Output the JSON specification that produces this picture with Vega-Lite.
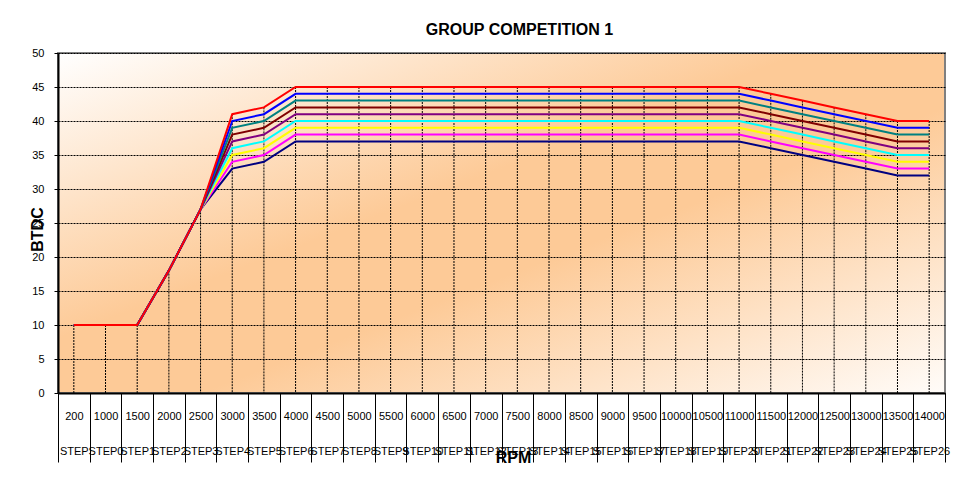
{
  "$schema": "https://vega.github.io/schema/vega-lite/v6.json",
  "autosize": {"type": "none"},
  "padding": {"left": 58, "top": 53, "right": 16, "bottom": 97},
  "width": 887,
  "height": 340,
  "background": "#ffffff",
  "config": {
    "font": "Liberation Sans",
    "view": {
      "stroke": "#808080",
      "strokeWidth": 2,
      "fill": {"gradient": "linear", "x1": 0, "y1": 0, "x2": 1, "y2": 1,
        "stops": [
          {"offset": 0, "color": "#ffffff"},
          {"offset": 0.42, "color": "#fdca97"},
          {"offset": 0.58, "color": "#fdca97"},
          {"offset": 1, "color": "#fffcf9"}
        ]}
    },
    "axisY": {
      "title": "BTDC",
      "titleFont": "Liberation Sans",
      "titleFontSize": 16,
      "titleFontWeight": "bold",
      "titleColor": "#000000",
      "titleX": -21,
      "titleY": 176,
      "titleAlign": "center",
      "titleBaseline": "middle",
      "labelFontSize": 11,
      "labelColor": "#000000",
      "labelPadding": 10,
      "labelOverlap": false,
      "tickSize": 4,
      "tickColor": "#000000",
      "domainColor": "#000000",
      "domainWidth": 2,
      "grid": true,
      "gridColor": "#000000",
      "gridDash": [2, 1],
      "gridWidth": 1
    }
  },
  "title": {
    "text": "GROUP COMPETITION 1",
    "font": "Liberation Sans",
    "fontSize": 16,
    "fontWeight": "bold",
    "color": "#000000",
    "anchor": "middle",
    "frame": "group",
    "baseline": "bottom",
    "dx": 18,
    "offset": -7
  },
  "data": {
    "values": [
      {"rpm": "200", "s1": 10, "s2": 10, "s3": 10, "s4": 10, "s5": 10, "s6": 10, "s7": 10, "s8": 10, "s9": 10},
      {"rpm": "1000", "s1": 10, "s2": 10, "s3": 10, "s4": 10, "s5": 10, "s6": 10, "s7": 10, "s8": 10, "s9": 10},
      {"rpm": "1500", "s1": 10, "s2": 10, "s3": 10, "s4": 10, "s5": 10, "s6": 10, "s7": 10, "s8": 10, "s9": 10},
      {"rpm": "2000", "s1": 18, "s2": 18, "s3": 18, "s4": 18, "s5": 18, "s6": 18, "s7": 18, "s8": 18, "s9": 18},
      {"rpm": "2500", "s1": 27, "s2": 27, "s3": 27, "s4": 27, "s5": 27, "s6": 27, "s7": 27, "s8": 27, "s9": 27},
      {"rpm": "3000", "s1": 41, "s2": 40, "s3": 39, "s4": 38, "s5": 37, "s6": 36, "s7": 35, "s8": 34, "s9": 33},
      {"rpm": "3500", "s1": 42, "s2": 41, "s3": 40, "s4": 39, "s5": 38, "s6": 37, "s7": 36, "s8": 35, "s9": 34},
      {"rpm": "4000", "s1": 45, "s2": 44, "s3": 43, "s4": 42, "s5": 41, "s6": 40, "s7": 39, "s8": 38, "s9": 37},
      {"rpm": "4500", "s1": 45, "s2": 44, "s3": 43, "s4": 42, "s5": 41, "s6": 40, "s7": 39, "s8": 38, "s9": 37},
      {"rpm": "5000", "s1": 45, "s2": 44, "s3": 43, "s4": 42, "s5": 41, "s6": 40, "s7": 39, "s8": 38, "s9": 37},
      {"rpm": "5500", "s1": 45, "s2": 44, "s3": 43, "s4": 42, "s5": 41, "s6": 40, "s7": 39, "s8": 38, "s9": 37},
      {"rpm": "6000", "s1": 45, "s2": 44, "s3": 43, "s4": 42, "s5": 41, "s6": 40, "s7": 39, "s8": 38, "s9": 37},
      {"rpm": "6500", "s1": 45, "s2": 44, "s3": 43, "s4": 42, "s5": 41, "s6": 40, "s7": 39, "s8": 38, "s9": 37},
      {"rpm": "7000", "s1": 45, "s2": 44, "s3": 43, "s4": 42, "s5": 41, "s6": 40, "s7": 39, "s8": 38, "s9": 37},
      {"rpm": "7500", "s1": 45, "s2": 44, "s3": 43, "s4": 42, "s5": 41, "s6": 40, "s7": 39, "s8": 38, "s9": 37},
      {"rpm": "8000", "s1": 45, "s2": 44, "s3": 43, "s4": 42, "s5": 41, "s6": 40, "s7": 39, "s8": 38, "s9": 37},
      {"rpm": "8500", "s1": 45, "s2": 44, "s3": 43, "s4": 42, "s5": 41, "s6": 40, "s7": 39, "s8": 38, "s9": 37},
      {"rpm": "9000", "s1": 45, "s2": 44, "s3": 43, "s4": 42, "s5": 41, "s6": 40, "s7": 39, "s8": 38, "s9": 37},
      {"rpm": "9500", "s1": 45, "s2": 44, "s3": 43, "s4": 42, "s5": 41, "s6": 40, "s7": 39, "s8": 38, "s9": 37},
      {"rpm": "10000", "s1": 45, "s2": 44, "s3": 43, "s4": 42, "s5": 41, "s6": 40, "s7": 39, "s8": 38, "s9": 37},
      {"rpm": "10500", "s1": 45, "s2": 44, "s3": 43, "s4": 42, "s5": 41, "s6": 40, "s7": 39, "s8": 38, "s9": 37},
      {"rpm": "11000", "s1": 45, "s2": 44, "s3": 43, "s4": 42, "s5": 41, "s6": 40, "s7": 39, "s8": 38, "s9": 37},
      {"rpm": "11500", "s1": 44, "s2": 43, "s3": 42, "s4": 41, "s5": 40, "s6": 39, "s7": 38, "s8": 37, "s9": 36},
      {"rpm": "12000", "s1": 43, "s2": 42, "s3": 41, "s4": 40, "s5": 39, "s6": 38, "s7": 37, "s8": 36, "s9": 35},
      {"rpm": "12500", "s1": 42, "s2": 41, "s3": 40, "s4": 39, "s5": 38, "s6": 37, "s7": 36, "s8": 35, "s9": 34},
      {"rpm": "13000", "s1": 41, "s2": 40, "s3": 39, "s4": 38, "s5": 37, "s6": 36, "s7": 35, "s8": 34, "s9": 33},
      {"rpm": "13500", "s1": 40, "s2": 39, "s3": 38, "s4": 37, "s5": 36, "s6": 35, "s7": 34, "s8": 33, "s9": 32},
      {"rpm": "14000", "s1": 40, "s2": 39, "s3": 38, "s4": 37, "s5": 36, "s6": 35, "s7": 34, "s8": 33, "s9": 32}
    ]
  },
  "encoding": {
    "x": {
      "field": "rpm",
      "type": "nominal",
      "sort": null,
      "bandPosition": 0.5,
      "scale": {"type": "band", "paddingInner": 0, "paddingOuter": 0},
      "axis": {
        "title": "RPM",
        "titleFont": "Liberation Sans",
        "titleFontSize": 16,
        "titleFontWeight": "bold",
        "titleColor": "#000000",
        "titleX": 455,
        "titleY": 64,
        "titleAlign": "center",
        "titleBaseline": "middle",
        "labelAngle": 0,
        "labelExpr": "(datum.label == null || datum.label == '') ? '' : [datum.label, toNumber(datum.label) < 1000 ? 'STEP' : 'STEP' + round((toNumber(datum.label) - 1000) / 500)]",
        "labelFontSize": 11,
        "labelColor": "#000000",
        "labelLineHeight": 35,
        "labelPadding": -52,
        "labelOverlap": false,
        "labelBound": false,
        "labelFlush": false,
        "labelLimit": 0,
        "tickBand": "extent",
        "tickSize": 69,
        "tickColor": "#000000",
        "tickWidth": 1,
        "domainColor": "#000000",
        "domainWidth": 2,
        "grid": false
      }
    }
  },
  "layer": [
    {
      "mark": {"type": "rule", "color": "#000000", "strokeWidth": 1, "strokeDash": [2, 1]},
      "encoding": {
        "y": {
          "field": "s1",
          "type": "quantitative",
          "scale": {"domain": [0, 50], "nice": false},
          "axis": {"values": [0, 5, 10, 15, 20, 25, 30, 35, 40, 45, 50], "title": "BTDC"}
        },
        "y2": {"datum": 0}
      }
    },
    {
      "transform": [
        {"fold": ["s9", "s8", "s7", "s6", "s5", "s4", "s3", "s2", "s1"], "as": ["series", "value"]}
      ],
      "mark": {"type": "line", "strokeWidth": 2},
      "encoding": {
        "y": {
          "field": "value",
          "type": "quantitative",
          "scale": {"domain": [0, 50], "nice": false},
          "axis": {"values": [0, 5, 10, 15, 20, 25, 30, 35, 40, 45, 50], "title": "BTDC"}
        },
        "color": {
          "field": "series",
          "type": "nominal",
          "scale": {
            "domain": ["s1", "s2", "s3", "s4", "s5", "s6", "s7", "s8", "s9"],
            "range": ["#ff0000", "#0000ff", "#008080", "#800000", "#800080", "#00ffff", "#ffff00", "#ff00ff", "#000080"]
          },
          "legend": null
        }
      }
    }
  ]
}
